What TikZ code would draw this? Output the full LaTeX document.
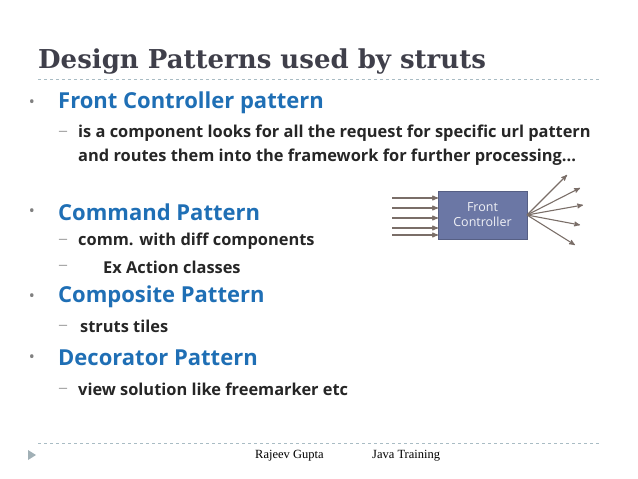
\documentclass[tikz,border=0pt]{standalone}
\usepackage{fontspec}
\setmainfont{DejaVu Serif}
\setsansfont{Open Sans}
\newfontfamily\footfont{Liberation Serif}
\usetikzlibrary{arrows,positioning,calc}
\definecolor{titlegray}{HTML}{3F3F4A}
\definecolor{headblue}{HTML}{1F6FB5}
\definecolor{boxblue}{HTML}{6B77A5}
\definecolor{arrowgray}{HTML}{7A6E68}
\definecolor{rulegray}{HTML}{A9BCC4}

\begin{document}
\begin{tikzpicture}[x=1pt,y=-1pt,>=stealth',
head/.style={anchor=west, text=headblue, font=\sffamily\bfseries\fontsize{22}{24}\selectfont},
sub/.style={anchor=west, text=black!85, font=\sffamily\bfseries\fontsize{16.4}{22}\selectfont, inner sep=0pt},
dot/.style={anchor=center, text=gray, font=\sffamily\fontsize{16}{16}\selectfont},
subdash/.style={anchor=center, text=gray, font=\footfont\fontsize{16}{16}\selectfont},
flow/.style={->, draw=arrowgray, line width=1.1pt},
]
\useasboundingbox (0,0) rectangle (638,479);

% Title
\node[anchor=west, text=titlegray, font=\bfseries\fontsize{26}{30}\selectfont, inner sep=0pt] (title) at (38,62) {Design Patterns used by struts};
\draw[rulegray, dashed] (38,79) -- (600,79);

% Bullets
\node[dot] (b1) at (32,104) {•};
\node[head, inner sep=0pt] (front) at (58,103) {Front Controller pattern};
\node[subdash] (d1) at (63,133) {–};
\node[sub] (front1) at (78,133) {is a component looks for all the request for specific url pattern};
\node[sub] (front2) at (78,157) {and routes them into the framework for further processing...};

\node[dot] (b2) at (32,213) {•};
\node[head, inner sep=0pt] (cmd) at (58,212) {Command Pattern};
\node[subdash] (d2) at (63,241) {–};
\node[sub] (cmd1) at (78,241) {comm. with diff components};
\node[subdash] (d3) at (63,267) {–};
\node[sub] (cmd2) at (103,267) {Ex Action classes};

\node[dot] (b3) at (32,298) {•};
\node[head, inner sep=0pt] (comp) at (58,297) {Composite Pattern};
\node[subdash] (d4) at (63,327) {–};
\node[sub] (comp1) at (80,326) {struts tiles};

\node[dot] (b4) at (32,359) {•};
\node[head, inner sep=0pt] (deco) at (58,358) {Decorator Pattern};
\node[subdash] (d5) at (63,390) {–};
\node[sub] (deco1) at (78,389) {view solution like freemarker etc};

% Front controller figure
\node[fill=boxblue, draw=boxblue!80!black, minimum width=89pt, minimum height=48pt, align=center, text=white!90!boxblue, font=\sffamily\fontsize{12.5}{15}\selectfont] (fc) at (482.5,215) {Front\\Controller};
\foreach \y/\n in {198/1,208/2,218/3,228/4,235/5} {
  \coordinate (in\n) at (392,\y);
  \draw[flow] (in\n) -- (438,\y);
}
\coordinate (hub) at (527,215);
\foreach \x/\y/\n in {567/175/1,580/188/2,583/205/3,580/225/4,575/245/5} {
  \coordinate (out\n) at (\x,\y);
  \draw[flow] (hub) -- (out\n);
}

% Footer
\draw[rulegray, dashed] (38,443) -- (600,443);
\fill[rulegray!80!gray] (28,450) -- (36,455) -- (28,460) -- cycle;
\node[font=\fontsize{12.5}{14}\footfont, anchor=west, inner sep=0pt] (author) at (255,456) {Rajeev Gupta};
\node[font=\fontsize{12.5}{14}\footfont, anchor=west, inner sep=0pt] (course) at (372,456) {Java Training};
\end{tikzpicture}
\end{document}
